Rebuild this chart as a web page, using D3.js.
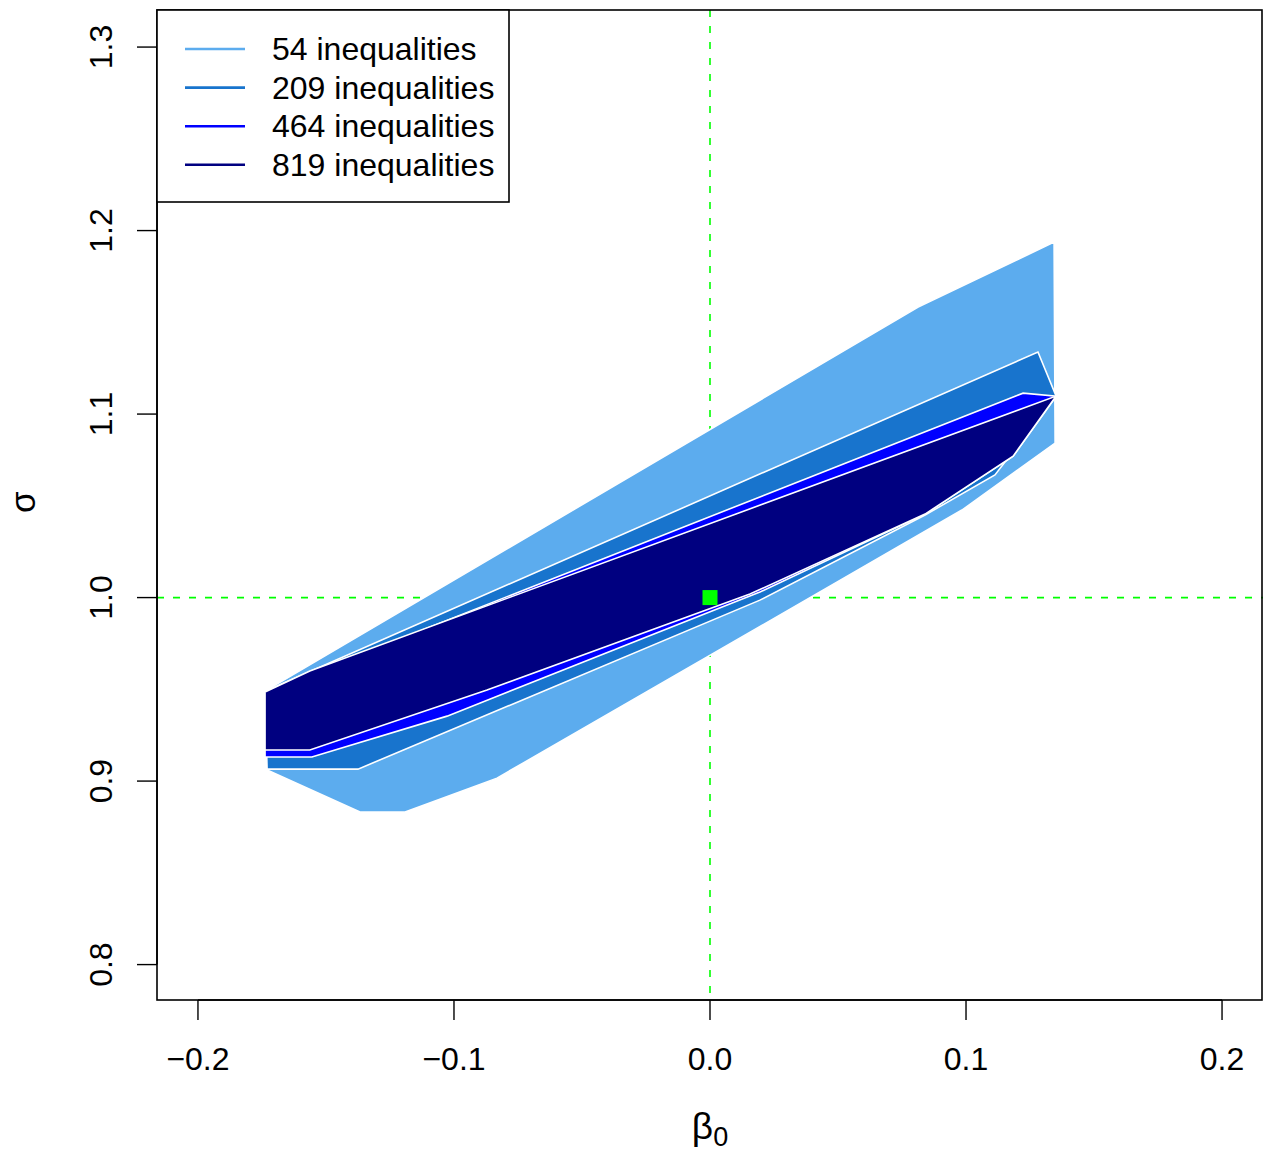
<!DOCTYPE html>
<html>
<head>
<meta charset="utf-8">
<script src="https://cdn.jsdelivr.net/npm/d3@7"></script>
<style>
  body { margin: 0; background: #fff; }
  text { font-family: "Liberation Sans", Arial, sans-serif; fill: #000; }
</style>
</head>
<body>
<div id="chart"></div>
<script>
// polygons, [beta0, sigma]
var poly54 = [[-0.1738, 0.9490], [0.0813, 1.1583], [0.1344, 1.1937], [0.1348, 1.0842],
  [0.0984, 1.0477], [-0.0832, 0.9016], [-0.1191, 0.8831], [-0.1367, 0.8831],
  [-0.1730, 0.9060]];
var poly209 = [[-0.1738, 0.9490], [0.1281, 1.1338], [0.1352, 1.1098], [0.1113, 1.0668],
  [0.0840, 1.0450], [0.0195, 0.9986], [-0.1375, 0.9065], [-0.1730, 0.9065]];
var poly464 = [[-0.1738, 0.9485], [0.1223, 1.1114], [0.1352, 1.1098], [0.1184, 1.0771],
  [0.0840, 1.0455], [0.0195, 1.0030], [-0.1027, 0.9354], [-0.1555, 0.9131],
  [-0.1738, 0.9131]];
var poly819 = [[-0.1738, 0.9485], [-0.1563, 0.9600], [0.1352, 1.1098], [0.1184, 1.0771],
  [0.0840, 1.0455], [0.0156, 1.0019], [-0.0871, 0.9496], [-0.1563, 0.9169],
  [-0.1738, 0.9169]];

var regions = [poly54, poly209, poly464, poly819];
var labels = ["54 inequalities", "209 inequalities", "464 inequalities", "819 inequalities"];
var colors = ["#5CACEE", "#1874CD", "#0000FF", "#000080"];

var xTicks = [-0.2, -0.1, 0.0, 0.1, 0.2];
var yTicks = [0.8, 0.9, 1.0, 1.1, 1.2, 1.3];
var truth = [0, 1];

var W = 1263, H = 1151;
var margin = { left: 157, right: 1262, top: 10, bottom: 1000 };

var x = d3.scaleLinear().domain([-0.216, 0.216]).range([157, 1263]);
var y = d3.scaleLinear().domain([0.7807, 1.3202]).range([1000, 10]);

var svg = d3.select("#chart").append("svg")
  .attr("width", W)
  .attr("height", H);

var plot = svg.append("g");

// reference lines at the true values
plot.append("line")
  .attr("x1", x(truth[0])).attr("x2", x(truth[0]))
  .attr("y1", margin.top).attr("y2", margin.bottom)
  .attr("stroke", "#00ff00").attr("stroke-width", 1.6)
  .attr("stroke-dasharray", "7,9");
plot.append("line")
  .attr("x1", margin.left).attr("x2", W)
  .attr("y1", y(truth[1])).attr("y2", y(truth[1]))
  .attr("stroke", "#00ff00").attr("stroke-width", 1.6)
  .attr("stroke-dasharray", "7,9");

var line = d3.line()
  .x(function (d) { return x(d[0]); })
  .y(function (d) { return y(d[1]); })
  .curve(d3.curveLinearClosed);

plot.selectAll("path.region")
  .data(regions)
  .enter().append("path")
  .attr("class", "region")
  .attr("d", line)
  .attr("fill", function (d, i) { return colors[i]; })
  .attr("stroke", "#fff")
  .attr("stroke-width", 1.6)
  .attr("stroke-linejoin", "miter");

plot.append("rect")
  .attr("x", x(truth[0]) - 7.5)
  .attr("y", y(truth[1]) - 7.5)
  .attr("width", 15).attr("height", 15)
  .attr("fill", "#00ff00");

// box
svg.append("rect")
  .attr("x", margin.left).attr("y", margin.top)
  .attr("width", margin.right - margin.left)
  .attr("height", margin.bottom - margin.top)
  .attr("fill", "none").attr("stroke", "#000").attr("stroke-width", 1.6);

// x axis
var xAxis = svg.append("g").attr("transform", "translate(0," + margin.bottom + ")");
xAxis.append("line")
  .attr("x1", x(xTicks[0])).attr("x2", x(xTicks[xTicks.length - 1]))
  .attr("stroke", "#000").attr("stroke-width", 1.6);
xAxis.selectAll("line.tick").data(xTicks).enter().append("line")
  .attr("class", "tick")
  .attr("x1", function (d) { return x(d); }).attr("x2", function (d) { return x(d); })
  .attr("y1", 0).attr("y2", 20)
  .attr("stroke", "#000").attr("stroke-width", 1.4);
xAxis.selectAll("text").data(xTicks).enter().append("text")
  .attr("x", function (d) { return x(d); })
  .attr("y", 70)
  .attr("text-anchor", "middle")
  .style("font-size", "32px")
  .text(function (d) { return d3.format(".1f")(d).replace("-", "\u2212"); });

// y axis
var yAxis = svg.append("g").attr("transform", "translate(" + margin.left + ",0)");
yAxis.append("line")
  .attr("y1", y(yTicks[0])).attr("y2", y(yTicks[yTicks.length - 1]))
  .attr("stroke", "#000").attr("stroke-width", 1.6);
yAxis.selectAll("line.tick").data(yTicks).enter().append("line")
  .attr("class", "tick")
  .attr("y1", function (d) { return y(d); }).attr("y2", function (d) { return y(d); })
  .attr("x1", 0).attr("x2", -20)
  .attr("stroke", "#000").attr("stroke-width", 1.4);
yAxis.selectAll("text").data(yTicks).enter().append("text")
  .attr("transform", function (d) { return "translate(-45," + y(d) + ") rotate(-90)"; })
  .attr("text-anchor", "middle")
  .style("font-size", "32px")
  .text(function (d) { return d3.format(".1f")(d); });

// axis titles
var xTitle = svg.append("text")
  .attr("x", x(0))
  .attr("y", 1139)
  .attr("text-anchor", "middle")
  .style("font-size", "37px");
xTitle.append("tspan").text("\u03b2");
xTitle.append("tspan").attr("dy", 7).style("font-size", "27px").text("0");

svg.append("text")
  .attr("transform", "translate(35," + y(1.052) + ") rotate(-90)")
  .attr("text-anchor", "middle")
  .style("font-size", "35px")
  .text("\u03c3");

// legend
var legend = svg.append("g");
legend.append("rect")
  .attr("x", 157).attr("y", 10)
  .attr("width", 352).attr("height", 192)
  .attr("fill", "#fff").attr("stroke", "#000").attr("stroke-width", 1.6);
var items = legend.selectAll("g.item").data(labels).enter().append("g")
  .attr("class", "item")
  .attr("transform", function (d, i) { return "translate(0," + (49 + i * 38.6) + ")"; });
items.append("line")
  .attr("x1", 185).attr("x2", 245)
  .attr("stroke", function (d, i) { return colors[i]; })
  .attr("stroke-width", 2.6);
items.append("text")
  .attr("x", 272).attr("y", 11)
  .style("font-size", "32px")
  .text(function (d) { return d; });
</script>
</body>
</html>
